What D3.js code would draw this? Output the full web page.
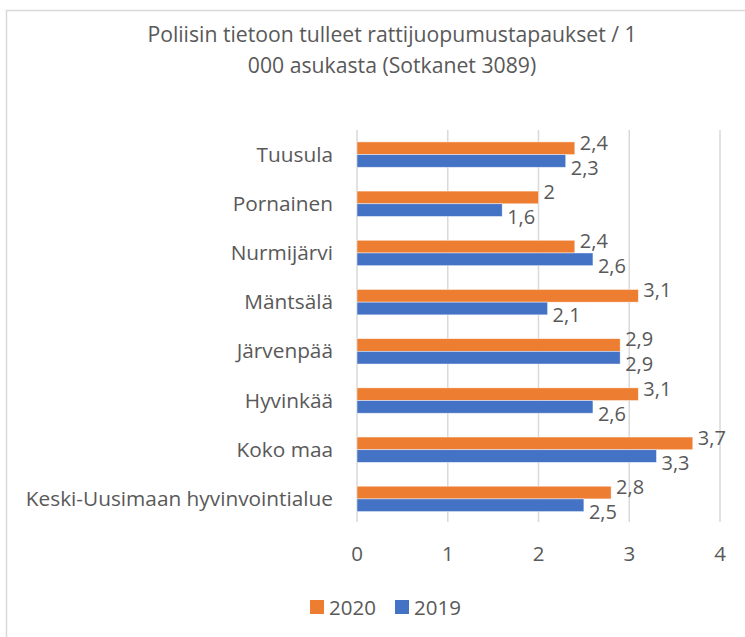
<!DOCTYPE html>
<html>
<head>
<meta charset="utf-8">
<script src="https://cdn.jsdelivr.net/npm/d3@7"></script>
<style>
  body { margin: 0; background: #fff; }
  text { font-family: "Open Sans", Lato, sans-serif; fill: #595959; }
</style>
</head>
<body>
<div class="chart"></div>
<script>
// chart values, top to bottom as in the picture
const categories = ["Tuusula", "Pornainen", "Nurmijärvi", "Mäntsälä", "Järvenpää", "Hyvinkää", "Koko maa", "Keski-Uusimaan hyvinvointialue"];
const values2020 = [2.4, 2, 2.4, 3.1, 2.9, 3.1, 3.7, 2.8];
const values2019 = [2.3, 1.6, 2.6, 2.1, 2.9, 2.6, 3.3, 2.5];
const seriesNames = ["2020", "2019"];
const xTicks = [0, 1, 2, 3, 4];
const titleLines = ["Poliisin tietoon tulleet rattijuopumustapaukset / 1", "000 asukasta (Sotkanet 3089)"];

const width = 745, height = 637;
const colors = { "2020": "#ED7D31", "2019": "#4472C4" };

const fiLocale = d3.formatLocale({ decimal: ",", thousands: "\u00a0", grouping: [3], currency: ["", " €"] });
const fmt = fiLocale.format("~g");

const svg = d3.select(".chart")
    .append("svg")
    .attr("width", width)
    .attr("height", height);

// chart frame (runs off the right and bottom like the original)
svg.append("rect")
    .attr("x", 6.5).attr("y", 10.5)
    .attr("width", 760).attr("height", 660)
    .attr("fill", "#fff")
    .attr("stroke", "#d9d9d9")
    .attr("stroke-width", 1.5);

// title
svg.append("text")
    .attr("text-anchor", "middle")
    .style("font-size", "21.2px")
    .selectAll("tspan")
    .data(titleLines)
    .enter()
    .append("tspan")
    .attr("x", 392)
    .attr("y", (d, i) => 42 + i * 31)
    .text(d => d);

const x = d3.scaleLinear().domain([0, 4]).range([357, 720]);
const y = d3.scaleBand().domain(categories).range([130, 523.5]).paddingInner(0.484).paddingOuter(0.242);
const ySub = d3.scaleBand().domain(seriesNames).range([0, y.bandwidth()]);

// gridlines
svg.append("g")
    .selectAll("line")
    .data(xTicks)
    .enter()
    .append("line")
    .attr("x1", d => x(d)).attr("x2", d => x(d))
    .attr("y1", 130).attr("y2", 522)
    .attr("stroke", "#d9d9d9")
    .attr("stroke-width", 1.5);

// x tick labels
svg.append("g")
    .selectAll("text")
    .data(xTicks)
    .enter()
    .append("text")
    .attr("x", d => x(d))
    .attr("y", 561)
    .attr("text-anchor", "middle")
    .style("font-size", "20.5px")
    .text(d => d);

// category labels
svg.append("g")
    .selectAll("text")
    .data(categories)
    .enter()
    .append("text")
    .attr("x", 333)
    .attr("y", d => y(d) + y.bandwidth() / 2 + 7)
    .attr("text-anchor", "end")
    .style("font-size", "20.8px")
    .text(d => d);

// build rows for bars
const rows = [];
categories.forEach((c, i) => {
    rows.push({ cat: c, series: "2020", value: values2020[i] });
    rows.push({ cat: c, series: "2019", value: values2019[i] });
});

svg.append("g")
    .selectAll("rect")
    .data(rows)
    .enter()
    .append("rect")
    .attr("x", x(0))
    .attr("y", d => y(d.cat) + ySub(d.series))
    .attr("width", d => x(d.value) - x(0))
    .attr("height", ySub.bandwidth())
    .attr("fill", d => colors[d.series])
    .attr("stroke", "#fff")
    .attr("stroke-opacity", 0.6)
    .attr("stroke-width", 0.75);

// data labels: 2020 nudged up, 2019 nudged down so they don't collide
svg.append("g")
    .selectAll("text")
    .data(rows)
    .enter()
    .append("text")
    .attr("x", d => x(d.value) + 5)
    .attr("y", d => {
        const mid = y(d.cat) + y.bandwidth() / 2;
        return d.series === "2020" ? mid - 5 : mid + 20;
    })
    .style("font-size", "20px")
    .text(d => fmt(d.value));

// legend
const legend = svg.append("g")
    .selectAll("g")
    .data(seriesNames)
    .enter()
    .append("g")
    .attr("transform", (d, i) => `translate(${310 + i * 85},600)`);

legend.append("rect")
    .attr("width", 14).attr("height", 14)
    .attr("fill", d => colors[d]);

legend.append("text")
    .attr("x", 19)
    .attr("y", 14.5)
    .style("font-size", "20.5px")
    .text(d => d);
</script>
</body>
</html>
